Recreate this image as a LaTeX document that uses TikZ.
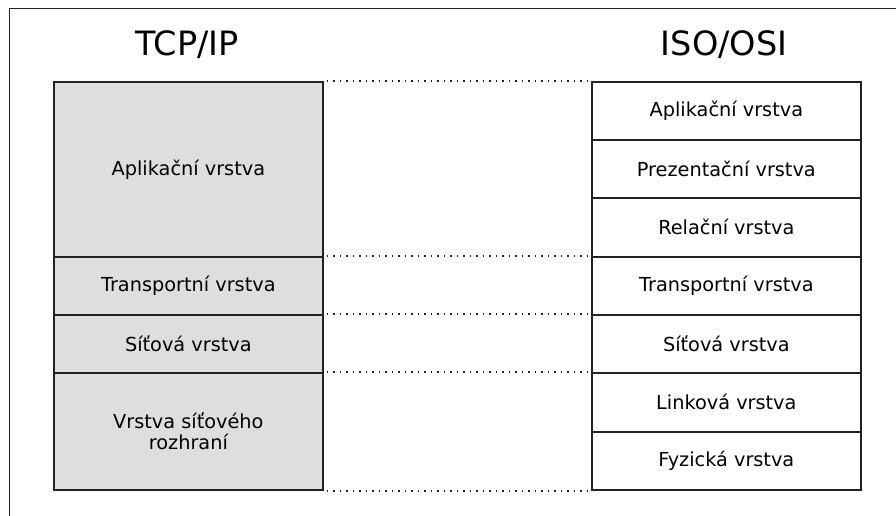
\documentclass[tikz,border=0pt]{standalone}
\usepackage{fontspec}
\setmainfont{DejaVu Sans}
\definecolor{layergray}{HTML}{DEDEDE}
\definecolor{edge}{HTML}{222222}
\begin{document}
\begin{tikzpicture}[x=1pt,y=-1pt,
  layer/.style={draw=edge,line width=1.7pt,minimum width=269pt,inner sep=0pt,anchor=north west,align=center,font=\fontsize{19.3}{21.5}\selectfont},
  tcp/.style={layer,fill=layergray},
  osi/.style={layer,fill=white},
  title/.style={font=\fontsize{33.5}{36}\selectfont},
  guide/.style={line width=1.6pt,dash pattern=on 1.4pt off 5.1pt,edge}]
\useasboundingbox (0,0) rectangle (896,516);
% outer frame
\draw[line width=1pt,edge] (9,530) -- (9,9) -- (910,9);
% headings
\node[title] (tcptitle) at (187,45) {TCP/IP};
\node[title] (osititle) at (724,45) {ISO/OSI};
% TCP/IP layers
\node[tcp,minimum height=175pt] (t1) at (53,81) {Aplikační vrstva};
\node[tcp,minimum height=58pt] (t2) at (53,256) {Transportní vrstva};
\node[tcp,minimum height=58pt] (t3) at (53,314) {Síťová vrstva};
\node[tcp,minimum height=117pt] (t4) at (53,372) {Vrstva síťového\\rozhraní};
% ISO/OSI layers
\node[osi,minimum height=58pt] (o1) at (591,81) {Aplikační vrstva};
\node[osi,minimum height=58pt] (o2) at (591,139) {Prezentační vrstva};
\node[osi,minimum height=59pt] (o3) at (591,197) {Relační vrstva};
\node[osi,minimum height=58pt] (o4) at (591,256) {Transportní vrstva};
\node[osi,minimum height=58pt] (o5) at (591,314) {Síťová vrstva};
\node[osi,minimum height=59pt] (o6) at (591,372) {Linková vrstva};
\node[osi,minimum height=58pt] (o7) at (591,431) {Fyzická vrstva};
% correspondence guides
\draw[guide] ([xshift=3pt]t1.north east) -- ([xshift=-3pt]o1.north west);
\draw[guide] ([xshift=3pt]t2.north east) -- ([xshift=-3pt]o4.north west);
\draw[guide] ([xshift=3pt]t3.north east) -- ([xshift=-3pt]o5.north west);
\draw[guide] ([xshift=3pt]t4.north east) -- ([xshift=-3pt]o6.north west);
\draw[guide] ([xshift=3pt]t4.south east) -- ([xshift=-3pt]o7.south west);
\end{tikzpicture}
\end{document}
